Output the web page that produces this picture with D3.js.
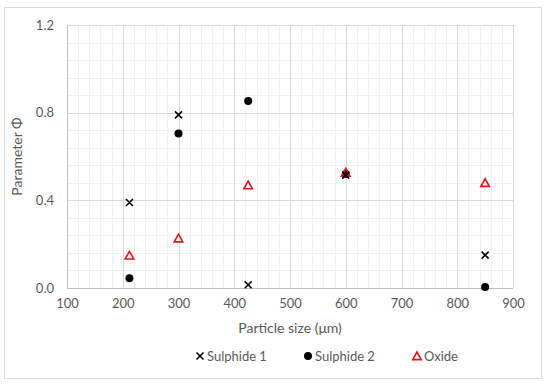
<!DOCTYPE html>
<html>
<head>
<meta charset="utf-8">
<script src="https://cdn.jsdelivr.net/npm/d3@7"></script>
<style>
html,body{margin:0;padding:0;background:#fff;}
svg{display:block;}
text{font-family:Lato, "Open Sans", sans-serif;}
</style>
</head>
<body>
<svg id="chart" width="550" height="387"></svg>
<script>
const particleSize = [212, 300, 425, 600, 850];
const sulphide1 = [0.39, 0.79, 0.015, 0.515, 0.15];
const sulphide2 = [0.045, 0.705, 0.853, 0.52, 0.005];
const oxide = [0.147, 0.225, 0.467, 0.525, 0.478];
const seriesNames = ["Sulphide 1", "Sulphide 2", "Oxide"];
const xTicks = [100, 200, 300, 400, 500, 600, 700, 800, 900];
const yTicks = [0.0, 0.4, 0.8, 1.2];
const xTitle = "Particle size (μm)";
const yTitle = "Parameter Φ";

const svg = d3.select("#chart");
const m = {left: 67, right: 513, top: 25, bottom: 288};

svg.append("rect").attr("x", 4.5).attr("y", 7.5).attr("width", 537).attr("height", 371)
  .attr("fill", "#fff").attr("stroke", "#d9d9d9").attr("stroke-width", 1);

const x = d3.scaleLinear().domain([100, 900]).range([m.left, m.right]);
const y = d3.scaleLinear().domain([0, 1.2]).range([m.bottom, m.top]);

const g = svg.append("g");
const xMinor = d3.range(100, 900.1, 20);
const yMinor = d3.range(0, 1.2001, 0.08);
g.selectAll(".xminor").data(xMinor).enter().append("line")
  .attr("x1", d => Math.round(x(d)) + 0.5).attr("x2", d => Math.round(x(d)) + 0.5)
  .attr("y1", m.top).attr("y2", m.bottom).attr("stroke", "#f0f0f0").attr("stroke-width", 1);
g.selectAll(".yminor").data(yMinor).enter().append("line")
  .attr("y1", d => Math.round(y(d)) + 0.5).attr("y2", d => Math.round(y(d)) + 0.5)
  .attr("x1", m.left).attr("x2", m.right).attr("stroke", "#f0f0f0").attr("stroke-width", 1);
g.selectAll(".xmajor").data(xTicks).enter().append("line")
  .attr("x1", d => Math.round(x(d)) + 0.5).attr("x2", d => Math.round(x(d)) + 0.5)
  .attr("y1", m.top).attr("y2", m.bottom).attr("stroke", "#d9d9d9").attr("stroke-width", 1);
g.selectAll(".ymajor").data(yTicks).enter().append("line")
  .attr("y1", d => Math.round(y(d)) + 0.5).attr("y2", d => Math.round(y(d)) + 0.5)
  .attr("x1", m.left).attr("x2", m.right).attr("stroke", "#d9d9d9").attr("stroke-width", 1);
g.append("line").attr("x1", m.left).attr("x2", m.right)
  .attr("y1", Math.round(y(0)) + 0.5).attr("y2", Math.round(y(0)) + 0.5).attr("stroke", "#bfbfbf");
g.append("line").attr("y1", m.top).attr("y2", m.bottom)
  .attr("x1", Math.round(x(100)) + 0.5).attr("x2", Math.round(x(100)) + 0.5).attr("stroke", "#bfbfbf");

const xAxis = d3.axisBottom(x).tickValues(xTicks).tickFormat(d3.format("d")).tickSize(0).tickPadding(11);
const xa = svg.append("g").attr("transform", `translate(0,${m.bottom})`).call(xAxis);
xa.select(".domain").remove();
xa.selectAll("text").attr("fill", "#595959").style("font-size", "13px").style("font-family", "Lato, sans-serif");

const yAxis = d3.axisLeft(y).tickValues(yTicks).tickFormat(d3.format(".1f")).tickSize(0).tickPadding(13);
const ya = svg.append("g").attr("transform", `translate(${m.left},0)`).call(yAxis);
ya.select(".domain").remove();
ya.selectAll("text").attr("fill", "#595959").style("font-size", "13px").style("font-family", "Lato, sans-serif");

svg.append("text").attr("x", (m.left + m.right) / 2).attr("y", 333)
  .attr("text-anchor", "middle").attr("fill", "#595959").style("font-size", "14px").text(xTitle);
svg.append("text").attr("transform", `translate(22,${(m.top + m.bottom) / 2}) rotate(-90)`)
  .attr("text-anchor", "middle").attr("fill", "#595959").style("font-size", "14px").text(yTitle);

const red = "#e3121b";
function cross(sel, cx, cy, s) {
  sel.append("path").attr("d", `M${cx - s},${cy - s}L${cx + s},${cy + s}M${cx - s},${cy + s}L${cx + s},${cy - s}`)
    .attr("stroke", "#000").attr("stroke-width", 1.6).attr("fill", "none");
}
function tri(sel, cx, cy, s) {
  sel.append("path").attr("d", `M${cx},${cy - s}L${cx + s * 0.95},${cy + s * 0.7}L${cx - s * 0.95},${cy + s * 0.7}Z`)
    .attr("stroke", red).attr("stroke-width", 1.6).attr("fill", "none");
}
const pts = svg.append("g");
sulphide2.forEach((v, i) => pts.append("circle").attr("cx", x(particleSize[i])).attr("cy", y(v)).attr("r", 4).attr("fill", "#000"));
oxide.forEach((v, i) => tri(pts, x(particleSize[i]), y(v), 4.5));
sulphide1.forEach((v, i) => cross(pts, x(particleSize[i]), y(v), 3.5));

const leg = svg.append("g");
const ly = 356;
const legItems = [
  {name: seriesNames[0], mx: 200, tx: 207},
  {name: seriesNames[1], mx: 308, tx: 315},
  {name: seriesNames[2], mx: 417, tx: 424}
];
cross(leg, legItems[0].mx, ly, 3.5);
leg.append("circle").attr("cx", legItems[1].mx).attr("cy", ly).attr("r", 4).attr("fill", "#000");
tri(leg, legItems[2].mx, ly + 0.5, 4.5);
legItems.forEach(d => leg.append("text").attr("x", d.tx).attr("y", ly).attr("dy", "0.35em")
  .attr("fill", "#595959").style("font-size", "13px").text(d.name));
</script>
</body>
</html>
